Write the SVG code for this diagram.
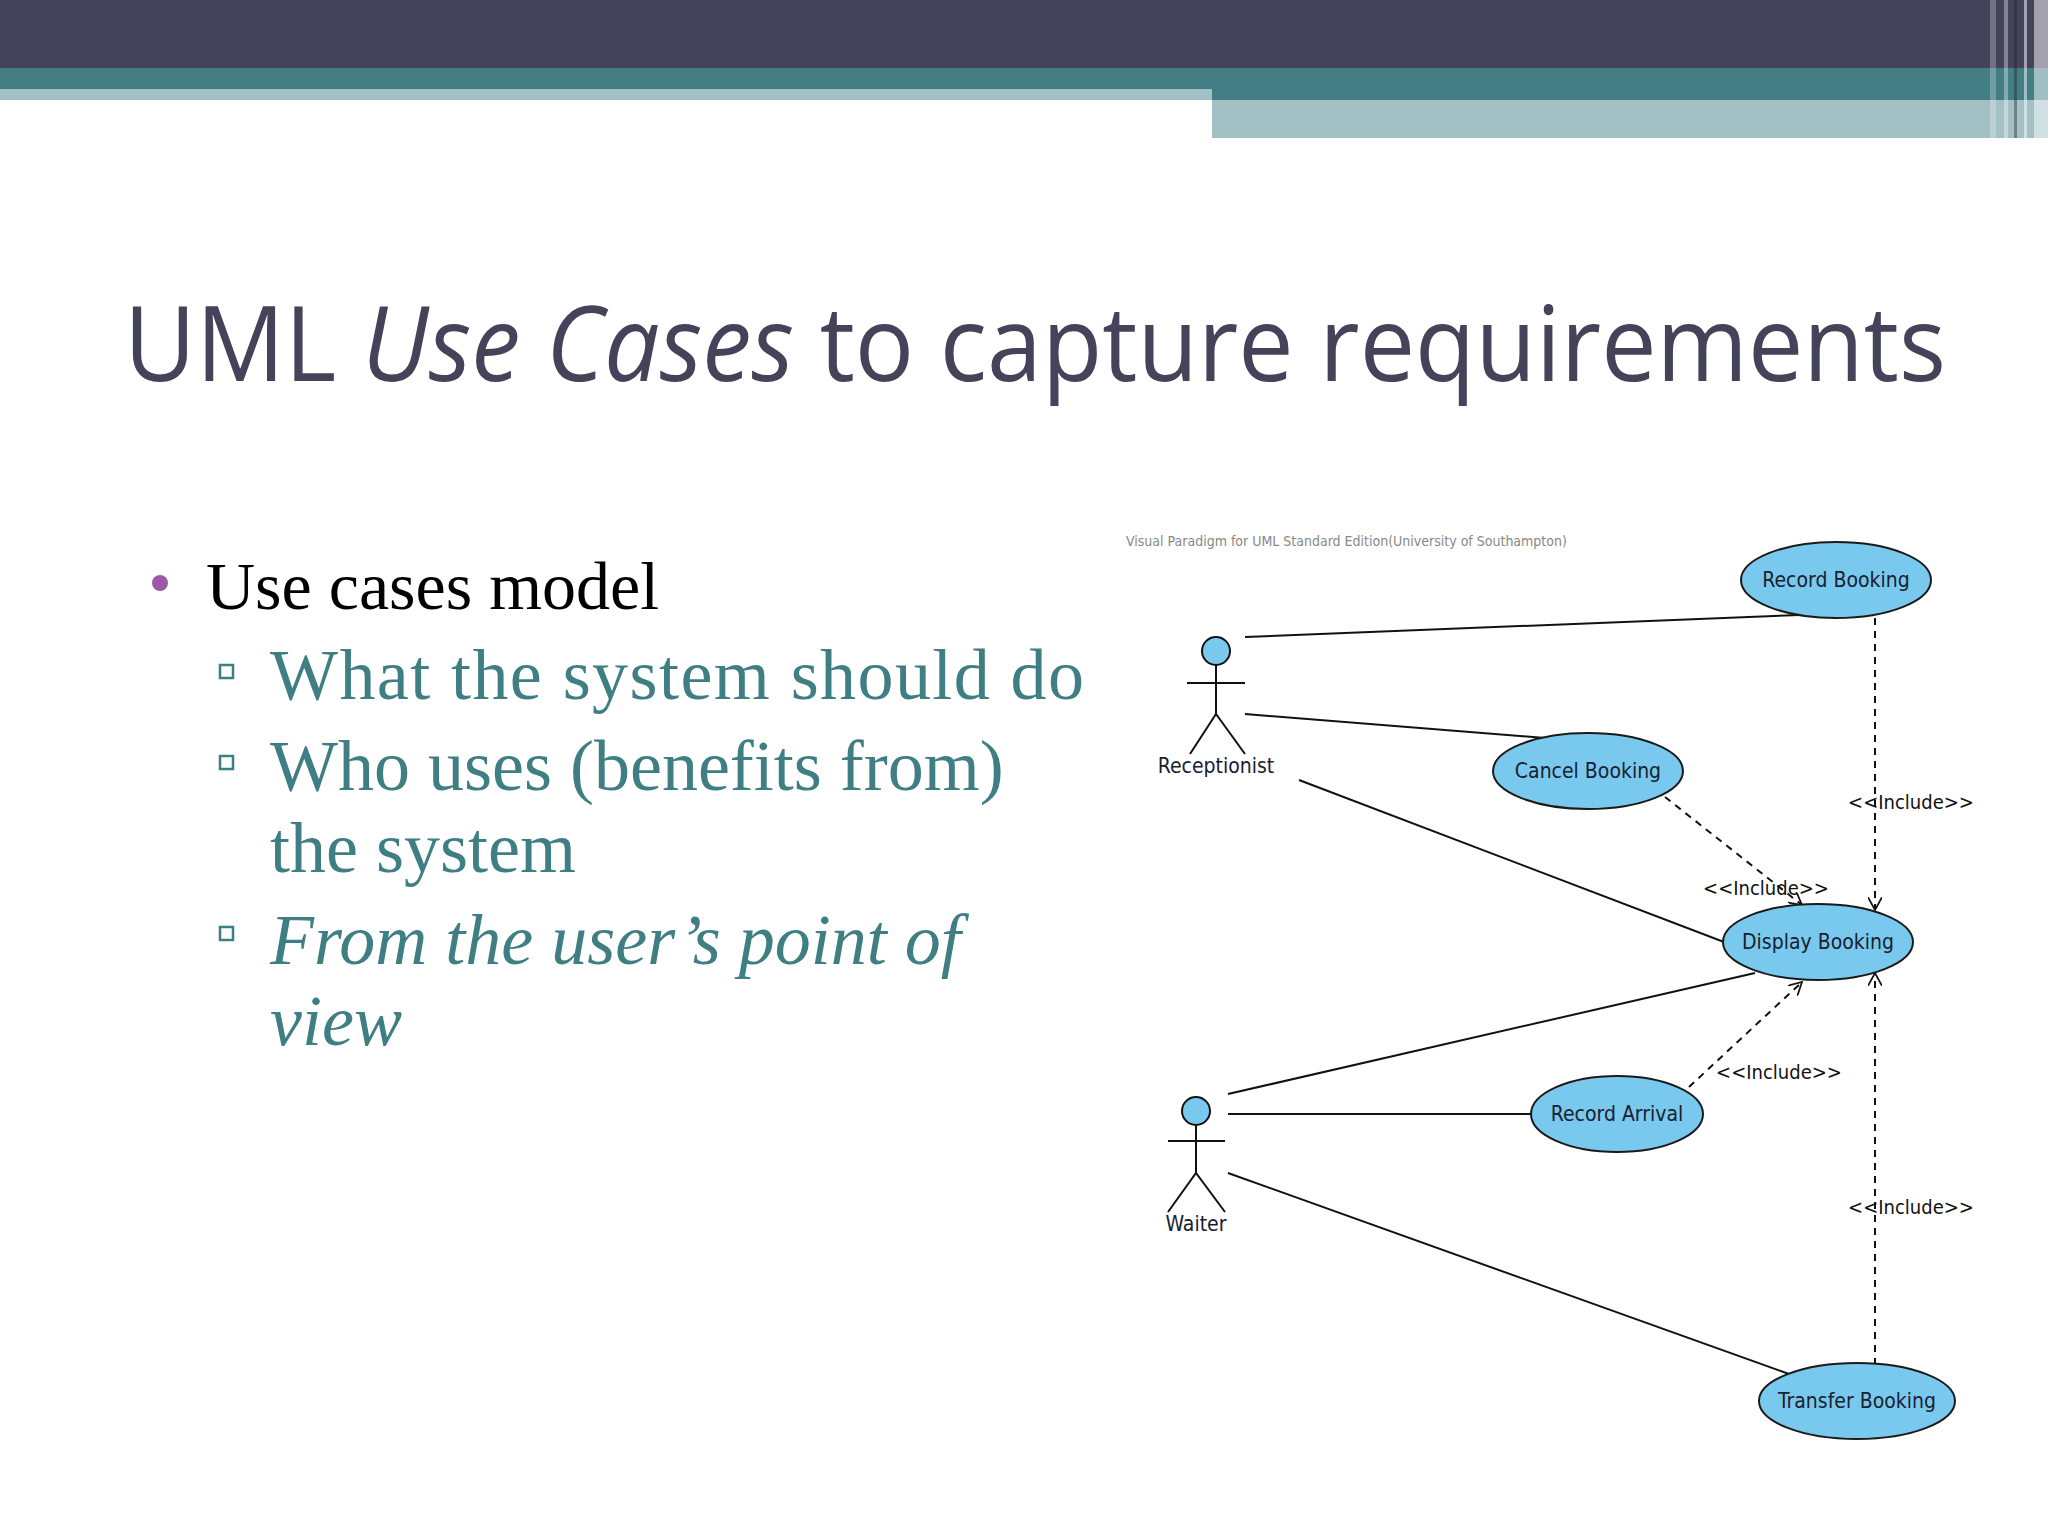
<svg xmlns="http://www.w3.org/2000/svg" width="2048" height="1536" viewBox="0 0 2048 1536">
<style>
.uc{fill:#79c9ee;stroke:#1a1a1a;stroke-width:2}
.ut{font-family:"DejaVu Sans Condensed","DejaVu Sans",sans-serif;font-size:21px;fill:#1a2030;text-anchor:middle}
.as{stroke:#111;stroke-width:2;fill:none}
.ln{stroke:#111;stroke-width:2;fill:none}
.dl{stroke:#111;stroke-width:2;fill:none;stroke-dasharray:7 6}
.il{font-family:"DejaVu Sans Condensed","DejaVu Sans",sans-serif;font-size:20px;fill:#111;text-anchor:middle}
.sub{font-family:"Liberation Serif",serif;font-size:72px;fill:#3f7f83}
.sq{fill:none;stroke:#3f7f83;stroke-width:2.5}
</style>
<defs>
<marker id="open" viewBox="0 0 12 12" refX="11" refY="6" markerWidth="14" markerHeight="14" markerUnits="userSpaceOnUse" orient="auto">
<path d="M0,0 L11,6 L0,12" fill="none" stroke="#111" stroke-width="1.5"/>
</marker>
</defs>
<rect width="2048" height="1536" fill="#ffffff"/>
<g id="header">
<rect x="0" y="0" width="2048" height="68" fill="#45435a"/>
<rect x="0" y="68" width="2048" height="21" fill="#437e84"/>
<rect x="0" y="89" width="1212" height="11" fill="#a3c0c4"/>
<rect x="1212" y="89" width="836" height="11" fill="#437e84"/>
<rect x="1212" y="100" width="836" height="38" fill="#a3c0c4"/>
<rect x="1990" y="0" width="6" height="138" fill="#ffffff" opacity="0.25"/>
<rect x="2004" y="0" width="4" height="138" fill="#ffffff" opacity="0.35"/>
<rect x="2014" y="0" width="3" height="138" fill="#222" opacity="0.4"/>
<rect x="2024" y="0" width="3" height="138" fill="#ffffff" opacity="0.5"/>
<rect x="2034" y="0" width="14" height="138" fill="#ffffff" opacity="0.5"/>
</g>
<text id="title" x="124" y="381" font-family="'Open Sans','DejaVu Sans',sans-serif" font-size="104" fill="#45435a" textLength="1822" lengthAdjust="spacingAndGlyphs">UML <tspan font-style="italic">Use Cases</tspan> to capture requirements</text>
<g id="bullets">
<circle cx="160" cy="583" r="8" fill="#9b59a7"/>
<text x="206" y="609" font-family="'Liberation Serif',serif" font-size="68" fill="#000">Use cases model</text>
<rect class="sq" x="220" y="665" width="13" height="13"/>
<text class="sub" x="270" y="699" textLength="814">What the system should do</text>
<rect class="sq" x="220" y="756" width="13" height="13"/>
<text class="sub" x="270" y="790">Who uses (benefits from)</text>
<text class="sub" x="270" y="872">the system</text>
<rect class="sq" x="220" y="927" width="13" height="13"/>
<text class="sub" x="270" y="964" font-style="italic" fill="#6b4e2f">From the user’s point of</text>
<text class="sub" x="270" y="1045" font-style="italic" fill="#6b4e2f">view</text>
</g>
<text id="caption" x="1126" y="546" font-family="'DejaVu Sans Condensed',sans-serif" font-size="14" fill="#888">Visual Paradigm for UML Standard Edition(University of Southampton)</text>
<g id="connectors">
<line class="ln" x1="1245" y1="637" x2="1800" y2="615"/>
<line class="ln" x1="1245" y1="714" x2="1545" y2="738"/>
<line class="ln" x1="1299" y1="780" x2="1724" y2="942"/>
<line class="ln" x1="1228" y1="1094" x2="1755" y2="973"/>
<line class="ln" x1="1228" y1="1114" x2="1531" y2="1114"/>
<line class="ln" x1="1228" y1="1173" x2="1789" y2="1374"/>
<line class="dl" x1="1875" y1="618" x2="1875" y2="910" marker-end="url(#open)"/>
<line class="dl" x1="1665" y1="797" x2="1802" y2="905" marker-end="url(#open)"/>
<line class="dl" x1="1689" y1="1087" x2="1802" y2="982" marker-end="url(#open)"/>
<line class="dl" x1="1875" y1="1365" x2="1875" y2="973" marker-end="url(#open)"/>
<text class="il" x="1911" y="809">&lt;&lt;Include&gt;&gt;</text>
<text class="il" x="1766" y="895">&lt;&lt;Include&gt;&gt;</text>
<text class="il" x="1779" y="1079">&lt;&lt;Include&gt;&gt;</text>
<text class="il" x="1911" y="1214">&lt;&lt;Include&gt;&gt;</text>
</g>
<g id="receptionist">
<circle cx="1216" cy="651" r="14" fill="#79c9ee" stroke="#111" stroke-width="2"/>
<path class="as" d="M1216,665 V714 M1187,683 H1245 M1190,754 L1216,714 L1245,754"/>
<text class="ut" x="1216" y="773">Receptionist</text>
</g>
<g id="waiter">
<circle cx="1196" cy="1111" r="14" fill="#79c9ee" stroke="#111" stroke-width="2"/>
<path class="as" d="M1196,1125 V1173 M1168,1141 H1225 M1168,1212 L1196,1173 L1225,1212"/>
<text class="ut" x="1196" y="1231">Waiter</text>
</g>
<g id="record-booking"><ellipse class="uc" cx="1836" cy="580" rx="95" ry="38"/><text class="ut" x="1836" y="587">Record Booking</text></g>
<g id="cancel-booking"><ellipse class="uc" cx="1588" cy="771" rx="95" ry="38"/><text class="ut" x="1588" y="778">Cancel Booking</text></g>
<g id="display-booking"><ellipse class="uc" cx="1818" cy="942" rx="95" ry="38"/><text class="ut" x="1818" y="949">Display Booking</text></g>
<g id="record-arrival"><ellipse class="uc" cx="1617" cy="1114" rx="86" ry="38"/><text class="ut" x="1617" y="1121">Record Arrival</text></g>
<g id="transfer-booking"><ellipse class="uc" cx="1857" cy="1401" rx="98" ry="38"/><text class="ut" x="1857" y="1408">Transfer Booking</text></g>
</svg>
